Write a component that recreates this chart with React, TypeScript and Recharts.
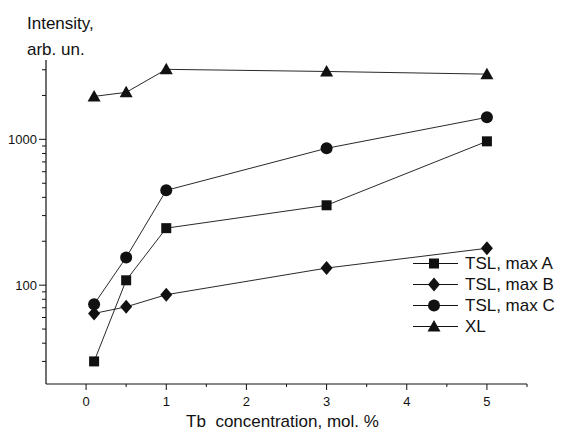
import React from "react";
import { LineChart, Line, XAxis, YAxis, Legend } from "recharts";

// Tb concentration, mol. %
const concentrations = [0.1, 0.5, 1, 3, 5];
const tslMaxA = [30, 108, 246, 353, 969];
const tslMaxB = [64, 71, 86, 131, 179];
const tslMaxC = [74, 155, 447, 868, 1415];
const xl = [1970, 2100, 3020, 2920, 2800];

const xTicks = [0, 0.5, 1, 1.5, 2, 2.5, 3, 3.5, 4, 4.5, 5, 5.5];
const xLabels = [0, 1, 2, 3, 4, 5];
const yTicks = [
  30, 40, 50, 60, 70, 80, 90, 100, 200, 300, 400, 500, 600, 700, 800, 900,
  1000, 2000, 3000,
];
const yLabels = [100, 1000];

const FONT = "'Liberation Sans', Arial, sans-serif";
const INK = "#111";

const data = concentrations.map((x, i) => ({
  x,
  a: tslMaxA[i],
  b: tslMaxB[i],
  c: tslMaxC[i],
  xl: xl[i],
}));

type Shape = "square" | "diamond" | "circle" | "triangle";

function marker(shape: Shape, cx: number, cy: number, key?: string | number) {
  if (shape === "square")
    return <rect key={key} x={cx - 5} y={cy - 5} width={10} height={10} fill={INK} />;
  if (shape === "diamond")
    return (
      <polygon
        key={key}
        points={`${cx},${cy - 7} ${cx + 6},${cy} ${cx},${cy + 7} ${cx - 6},${cy}`}
        fill={INK}
      />
    );
  if (shape === "circle") return <circle key={key} cx={cx} cy={cy} r={6} fill={INK} />;
  return (
    <polygon
      key={key}
      points={`${cx},${cy - 6.5} ${cx + 6.5},${cy + 5} ${cx - 6.5},${cy + 5}`}
      fill={INK}
    />
  );
}

const series: { key: string; name: string; shape: Shape }[] = [
  { key: "a", name: "TSL, max A", shape: "square" },
  { key: "b", name: "TSL, max B", shape: "diamond" },
  { key: "c", name: "TSL, max C", shape: "circle" },
  { key: "xl", name: "XL", shape: "triangle" },
];

const XTick = (props: any) => {
  const { x, y, payload } = props;
  const major = xLabels.includes(payload.value);
  return (
    <g>
      <line x1={x} x2={x} y1={y} y2={y + (major ? 6 : 3)} stroke={INK} strokeWidth={1} />
      {major && (
        <text x={x} y={y + 22} textAnchor="middle" fontSize={13} fontFamily={FONT} fill={INK}>
          {payload.value}
        </text>
      )}
    </g>
  );
};

const YTick = (props: any) => {
  const { x, y, payload } = props;
  const major = yLabels.includes(payload.value);
  return (
    <g>
      <line x1={x} x2={x - (major ? 7 : 4)} y1={y} y2={y} stroke={INK} strokeWidth={1} />
      {major && (
        <text x={x - 9} y={y + 5} textAnchor="end" fontSize={13} fontFamily={FONT} fill={INK}>
          {payload.value}
        </text>
      )}
    </g>
  );
};

const renderLegend = () => (
  <div style={{ fontFamily: FONT, fontSize: 17, color: INK }}>
    {series.map((s) => (
      <div key={s.key} style={{ display: "flex", alignItems: "center", height: 21 }}>
        <svg width={52} height={21}>
          <line x1={0} x2={45} y1={10.5} y2={10.5} stroke={INK} strokeWidth={1} />
          {marker(s.shape, 21, 10.5)}
        </svg>
        <span>{s.name}</span>
      </div>
    ))}
  </div>
);

const yTitle = () => (
  <text fontSize={17} fontFamily={FONT} fill={INK}>
    <tspan x={27} y={29}>Intensity,</tspan>
    <tspan x={27} y={55}>arb. un.</tspan>
  </text>
);

export default function App() {
  return (
    <div style={{ position: "absolute", left: 0, top: 0, background: "#fff" }}>
      <LineChart
        width={561}
        height={436}
        data={data}
        margin={{ top: 60, right: 34, bottom: 0, left: 0 }}
      >
        <XAxis
          dataKey="x"
          type="number"
          domain={[-0.5, 5.5]}
          ticks={xTicks}
          interval={0}
          tickSize={0}
          tickMargin={0}
          tick={XTick}
          height={52}
          stroke={INK}
          strokeWidth={1.2}
          allowDataOverflow
          label={{
            value: "Tb\u00a0 concentration, mol. %",
            position: "insideBottom",
            offset: 9,
            dx: -4,
            fontSize: 17,
            fontFamily: FONT,
            fill: INK,
          }}
        />
        <YAxis
          type="number"
          scale="log"
          domain={[21, 3500]}
          ticks={yTicks}
          interval={0}
          tickSize={0}
          tickMargin={0}
          tick={YTick}
          width={46}
          stroke={INK}
          strokeWidth={1.2}
          allowDataOverflow
          label={{ content: yTitle }}
        />
        <Legend
          layout="vertical"
          align="center"
          verticalAlign="middle"
          content={renderLegend}
          wrapperStyle={{ left: 413, top: 253, width: "auto" }}
        />
        {series.map((s) => (
          <Line
            key={s.key}
            dataKey={s.key}
            name={s.name}
            stroke={INK}
            strokeWidth={0.9}
            isAnimationActive={false}
            dot={(p: any) => marker(s.shape, p.cx, p.cy, p.index)}
            activeDot={false}
          />
        ))}
      </LineChart>
    </div>
  );
}
